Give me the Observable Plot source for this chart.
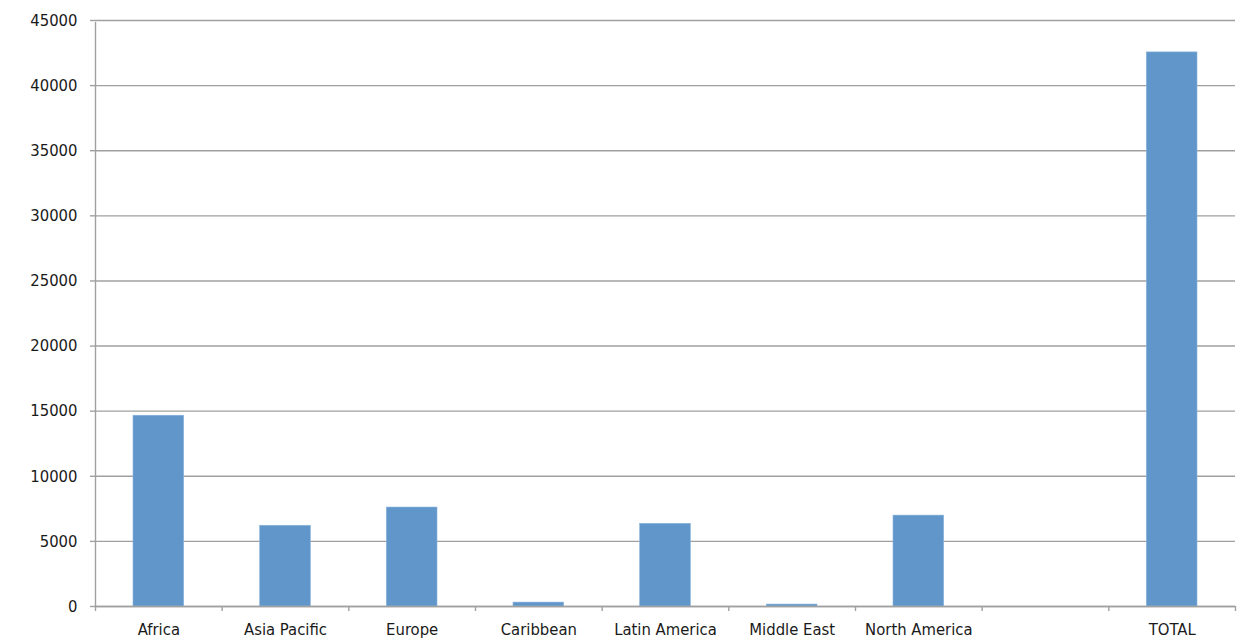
<!DOCTYPE html>
<html>
<head>
<meta charset="utf-8">
<script src="https://cdn.jsdelivr.net/npm/d3@7"></script>
<script src="https://cdn.jsdelivr.net/npm/@observablehq/plot@0.6"></script>
<style>
  html, body { margin: 0; padding: 0; background: #fff; }
  #chart svg { display: block; }
</style>
</head>
<body>
<div id="chart"></div>
<script>
const categories = ["Africa", "Asia Pacific", "Europe", "Caribbean", "Latin America", "Middle East", "North America", " ", "TOTAL"];
const values = [14650, 6200, 7600, 300, 6350, 150, 6980, null, 42550];
const yTicks = [0, 5000, 10000, 15000, 20000, 25000, 30000, 35000, 40000, 45000];

const data = categories.map((c, i) => ({category: c, value: values[i]})).filter(d => d.value != null);

const W = 1248, H = 641;
const mL = 95, mR = 13, mT = 20, mB = 35;
const step = (W - mL - mR) / categories.length;
const font = "'DejaVu Sans Condensed', 'Liberation Sans Narrow', sans-serif";
const grid = "#a0a0a0";
const fs = 16.5;

const chart = Plot.plot({
  width: W,
  height: H,
  marginLeft: mL,
  marginRight: mR,
  marginTop: mT,
  marginBottom: mB,
  style: {fontFamily: font, fontSize: fs + "px", color: "#1a1a1a", background: "#fff"},
  x: {domain: categories, paddingInner: 0.6, paddingOuter: 0.3, round: false, label: null},
  y: {domain: [0, 45000], ticks: yTicks, label: null},
  marks: [
    Plot.gridY(yTicks, {stroke: grid, strokeOpacity: 1, strokeWidth: 1.4}),
    Plot.barY(data, {x: "category", y: "value", fill: "#6096c9", stroke: "#8ab4dc", strokeWidth: 0.6}),
    Plot.ruleY([0], {stroke: grid, strokeWidth: 1.4}),
    Plot.ruleX([0], {x: () => categories[0], dx: -step / 2, y1: 0, y2: 45000, stroke: grid, strokeWidth: 1.4, insetBottom: -2}),
    Plot.ruleX(categories, {x: d => d, dx: -step / 2, y1: 0, y2: 0, insetBottom: -5, stroke: grid, strokeWidth: 1.4}),
    Plot.ruleX([categories[categories.length - 1]], {x: d => d, dx: step / 2, y1: 0, y2: 0, insetBottom: -5, stroke: grid, strokeWidth: 1.4}),
    Plot.axisY(yTicks, {tickSize: 5, tickPadding: 13, stroke: grid, strokeWidth: 1.4, tickFormat: d => String(d), fontSize: fs, fill: "#1a1a1a"}),
    Plot.axisX({tickSize: 0, tickPadding: 17, fontSize: fs, fill: "#1a1a1a"})
  ]
});
document.getElementById("chart").appendChild(chart);
</script>
</body>
</html>
